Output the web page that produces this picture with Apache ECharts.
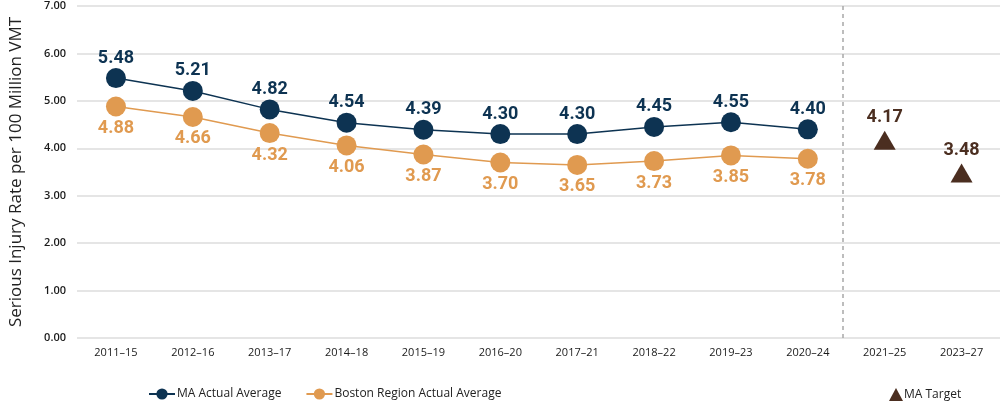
<!DOCTYPE html>
<html><head><meta charset="utf-8">
<script src="https://cdn.jsdelivr.net/npm/echarts@6/dist/echarts.min.js"></script>
<style>html,body{margin:0;padding:0;background:#fff}#c{width:1000px;height:401px}</style>
</head><body><div id="c"></div>
<script>
const categories = ['2011–15','2012–16','2013–17','2014–18','2015–19','2016–20','2017–21','2018–22','2019–23','2020–24','2021–25','2023–27'];
const maActual = [5.48,5.21,4.82,4.54,4.39,4.30,4.30,4.45,4.55,4.40,null,null];
const bostonActual = [4.88,4.66,4.32,4.06,3.87,3.70,3.65,3.73,3.85,3.78,null,null];
const maTarget = [null,null,null,null,null,null,null,null,null,null,4.17,3.48];
const yMin = 0, yMax = 7, yStep = 1;
const dividerPos = 9.95;

const navy = '#0d3352', orange = '#e09a50', brown = '#4b2e20';
const boldFont = "Roboto,sans-serif";
const regFont = "'Open Sans','Noto Sans',sans-serif";

const chart = echarts.init(document.getElementById('c'));
chart.setOption({
  animation:false,
  backgroundColor:'#fff',
  grid:[{left:68,right:0,top:6,bottom:63},{left:77.5,right:-2.6,top:6,bottom:63}],
  xAxis:[
    {gridIndex:0,type:'value',min:0,max:1,show:false},
    {gridIndex:1,type:'category',data:categories,boundaryGap:true,
     axisLine:{show:false},axisTick:{show:false},
     axisLabel:{color:'#1a1a1a',fontSize:11,fontFamily:regFont,margin:9}},
    {gridIndex:1,type:'value',min:0,max:12,show:false}
  ],
  yAxis:[
    {gridIndex:0,type:'value',min:yMin,max:yMax,interval:yStep,
     axisLine:{show:false},axisTick:{show:false},
     axisLabel:{color:'#1a1a1a',fontSize:11,fontWeight:600,fontFamily:regFont,margin:11,formatter:v=>v.toFixed(2)},
     splitLine:{lineStyle:{color:'#dcdcdc',width:1.5}},
     name:'Serious Injury Rate per 100 Million VMT',nameLocation:'middle',nameGap:52,
     nameTextStyle:{color:'#222',fontSize:17,fontFamily:regFont}},
    {gridIndex:1,type:'value',min:yMin,max:yMax,interval:yStep,show:false,splitLine:{show:false}}
  ],
  legend:[
    {data:['MA Actual Average','Boston Region Actual Average'],left:143,top:383,itemGap:24,itemWidth:26,itemHeight:14,
     textStyle:{color:'#222',fontSize:12,fontFamily:regFont,padding:[0,0,0,-3]}},
    {data:['MA Target'],left:884,top:383,itemWidth:14,itemHeight:13,itemGap:4,
     textStyle:{color:'#222',fontSize:12,fontFamily:regFont,padding:[0,0,0,-4]}}
  ],
  series:[
    {name:'MA Actual Average',type:'line',xAxisIndex:1,yAxisIndex:1,data:maActual,
     symbol:'circle',symbolSize:20,color:navy,lineStyle:{color:navy,width:1.5},itemStyle:{color:navy},
     label:{show:true,position:'top',distance:1,color:navy,fontSize:18,fontWeight:'bold',fontFamily:boldFont,formatter:p=>p.value.toFixed(2)}},
    {name:'Boston Region Actual Average',type:'line',xAxisIndex:1,yAxisIndex:1,data:bostonActual,
     symbol:'circle',symbolSize:20,color:orange,lineStyle:{color:orange,width:1.5},itemStyle:{color:orange},
     label:{show:true,position:'bottom',distance:3,color:orange,fontSize:18,fontWeight:'bold',fontFamily:boldFont,formatter:p=>p.value.toFixed(2)}},
    {name:'MA Target',type:'scatter',xAxisIndex:1,yAxisIndex:1,data:maTarget,
     symbol:'triangle',symbolSize:[22,19],color:brown,itemStyle:{color:brown,opacity:1},
     label:{show:true,position:'top',distance:4,color:brown,fontSize:18,fontWeight:'bold',fontFamily:boldFont,formatter:p=>p.value==null?'':p.value.toFixed(2)}},
    {name:'divider',type:'line',xAxisIndex:2,yAxisIndex:1,data:[],silent:true,
     markLine:{silent:true,symbol:'none',label:{show:false},
       lineStyle:{color:'#a8a8a8',type:[4,4],width:1.5},data:[{xAxis:dividerPos}]}}
  ]
});
</script></body></html>
